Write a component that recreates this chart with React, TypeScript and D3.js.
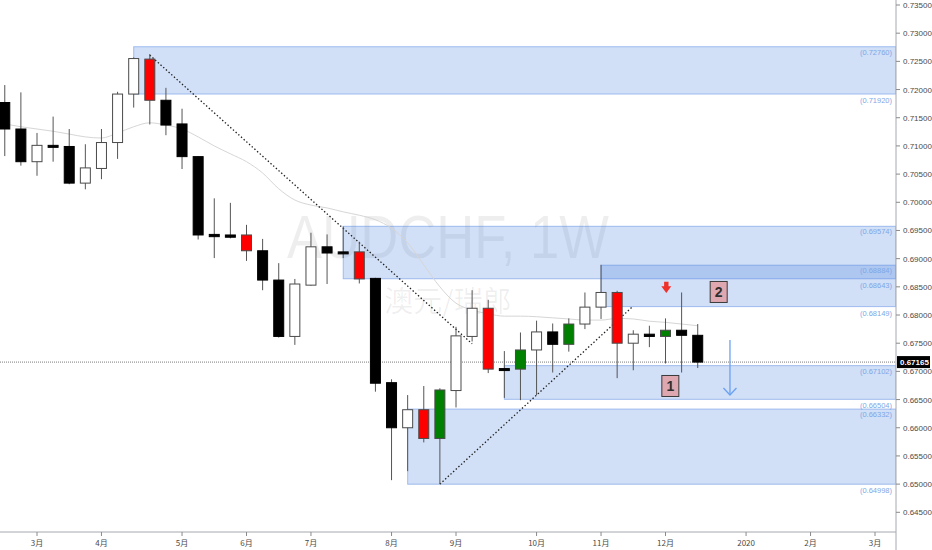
import React from "react";
import * as d3 from "d3";

// ---- data ----
const weekIndex = [-2, -1, 0, 1, 2, 3, 4, 5, 6, 7, 8, 9, 10, 11, 12, 13, 14, 15, 16, 17, 18, 19, 20, 21, 22, 23, 24, 25, 26, 27, 28, 29, 30, 31, 32, 33, 34, 35, 36, 37, 38, 39, 40, 41];
const opens = [0.7177, 0.7130, 0.7072, 0.7101, 0.7099, 0.7034, 0.7060, 0.7106, 0.7192, 0.7254, 0.7181, 0.7139, 0.7081, 0.6943, 0.6942, 0.6942, 0.6914, 0.6862, 0.6762, 0.6853, 0.6921, 0.6912, 0.6912, 0.6865, 0.6680, 0.6600, 0.6632, 0.6581, 0.6666, 0.6762, 0.6812, 0.6705, 0.6704, 0.6738, 0.6770, 0.6748, 0.6784, 0.6814, 0.6840, 0.6750, 0.6766, 0.6762, 0.6773, 0.6764];
const highs = [0.7208, 0.7195, 0.7123, 0.7152, 0.7130, 0.7103, 0.7130, 0.7196, 0.7257, 0.7263, 0.7203, 0.7166, 0.7082, 0.7007, 0.6999, 0.6960, 0.6935, 0.6892, 0.6864, 0.6946, 0.6943, 0.6957, 0.6930, 0.6866, 0.6686, 0.6658, 0.6674, 0.6670, 0.6779, 0.6844, 0.6827, 0.6736, 0.6769, 0.6790, 0.6785, 0.6794, 0.6840, 0.6889, 0.6843, 0.6773, 0.6781, 0.6794, 0.6840, 0.6784];
const lows = [0.7082, 0.7065, 0.7047, 0.7072, 0.7032, 0.7023, 0.7041, 0.7077, 0.7168, 0.7138, 0.7119, 0.7059, 0.6934, 0.6901, 0.6936, 0.6896, 0.6844, 0.6760, 0.6747, 0.6852, 0.6855, 0.6901, 0.6856, 0.6664, 0.6507, 0.6523, 0.6574, 0.6500, 0.6636, 0.6753, 0.6697, 0.6653, 0.6649, 0.6658, 0.6698, 0.6735, 0.6775, 0.6793, 0.6688, 0.6702, 0.6743, 0.6714, 0.6698, 0.6706];
const closes = [0.7130, 0.7072, 0.7101, 0.7099, 0.7034, 0.7061, 0.7106, 0.7192, 0.7255, 0.7181, 0.7137, 0.7081, 0.6942, 0.6939, 0.6938, 0.6914, 0.6862, 0.6762, 0.6855, 0.6921, 0.6910, 0.6910, 0.6864, 0.6679, 0.6600, 0.6632, 0.6581, 0.6667, 0.6763, 0.6812, 0.6704, 0.6703, 0.6738, 0.6770, 0.6748, 0.6784, 0.6814, 0.6840, 0.6750, 0.6766, 0.6762, 0.6773, 0.6764, 0.67165];
const candleColors = ["", "", "", "", "", "", "", "", "", "red", "", "", "", "", "", "red", "", "", "", "", "", "", "red", "", "", "", "red", "green", "", "", "red", "", "green", "", "", "green", "", "", "red", "", "", "green", "", ""];
const maValues = [0.7139, 0.7134, 0.7130, 0.7126, 0.7121, 0.7116, 0.7114, 0.7123, 0.7134, 0.7141, 0.7137, 0.7130, 0.7116, 0.7100, 0.7086, 0.7072, 0.7052, 0.7024, 0.7004, 0.6995, 0.6990, 0.6983, 0.6977, 0.6969, 0.6954, 0.6928, 0.6889, 0.6850, 0.6821, 0.6809, 0.6802, 0.6798, 0.6798, 0.6797, 0.6795, 0.6793, 0.6791, 0.6791, 0.6794, 0.6793, 0.6789, 0.6787, 0.6784, 0.6781];

const monthTickIndex = [0, 4, 9, 13, 17, 22, 26, 31, 35, 39, 44, 48, 52];
const monthTickLabels = ["3月", "4月", "5月", "6月", "7月", "8月", "9月", "10月", "11月", "12月", "2020", "2月", "3月"];
const priceTicks = [0.645, 0.65, 0.655, 0.66, 0.665, 0.67, 0.675, 0.68, 0.685, 0.69, 0.695, 0.7, 0.705, 0.71, 0.715, 0.72, 0.725, 0.73, 0.735];

const zoneStartIndex = [6, 19, 35, 29, 23];
const zoneTop = [0.7276, 0.69574, 0.68884, 0.67102, 0.66332];
const zoneBottom = [0.7192, 0.68643, 0.68149, 0.66504, 0.64998];

const trendStartIndex = [7, 25];
const trendStartPrice = [0.7261, 0.65];
const trendEndIndex = [27, 37];
const trendEndPrice = [0.6749, 0.6816];

const lastPrice = 0.67165;

const noteLabels = ["1", "2"];
const noteIndex = [39.3, 42.3];
const notePrice = [0.66741, 0.68409];
const redArrowIndex = 39.05;
const redArrowTop = 0.6859;
const redArrowTip = 0.6839;
const blueArrowIndex = 43;
const blueArrowFrom = 0.67557;
const blueArrowTo = 0.66581;

const W = 932;
const H = 550;
const plotRight = 896;
const plotBottom = 532;

export default function App() {
  const x = d3.scaleLinear().domain([0, 52]).range([37, 875]);
  const y = d3.scaleLinear().domain([0.645, 0.735]).range([512.3, 5]);
  const bodyW = (x(1) - x(0)) * 0.62;
  const fmt = d3.format(".5f");

  const maLine = d3
    .line<number>()
    .x((_, i) => x(weekIndex[i]))
    .y((d) => y(d))
    .curve(d3.curveMonotoneX)(maValues);

  const labelFont = "'Liberation Sans', Arial, sans-serif";
  const zoneLabels: { text: string; yPos: number }[] = [];
  zoneTop.forEach((t, i) => {
    zoneLabels.push({ text: `(${fmt(t)})`, yPos: y(t) + 8 });
    zoneLabels.push({ text: `(${fmt(zoneBottom[i])})`, yPos: y(zoneBottom[i]) + 9 });
  });

  const lpY = y(lastPrice);

  return (
    <div>
      <style>{`body{margin:0;background:#fff}`}</style>
      <svg width={W} height={H} style={{ display: "block" }}>
        <defs>
          <clipPath id="plotClip">
            <rect x={0} y={0} width={plotRight} height={plotBottom} />
          </clipPath>
        </defs>
        <rect x={0} y={0} width={W} height={H} fill="#ffffff" />

        {/* watermark */}
        <text
          x={plotRight / 2}
          y={258}
          textAnchor="middle"
          fontFamily={labelFont}
          fontSize={62}
          textLength={322}
          lengthAdjust="spacingAndGlyphs"
          fill="rgba(0,0,0,0.065)"
        >
          AUDCHF, 1W
        </text>
        <text
          x={plotRight / 2}
          y={312}
          textAnchor="middle"
          fontFamily="'Noto Sans CJK SC', sans-serif"
          fontSize={29}
          fill="rgba(0,0,0,0.065)"
        >
          澳元/瑞郎
        </text>

        <g clipPath="url(#plotClip)">
          {/* zones */}
          {zoneStartIndex.map((s, i) => (
            <rect
              key={"z" + i}
              x={x(s)}
              y={y(zoneTop[i])}
              width={plotRight - x(s)}
              height={y(zoneBottom[i]) - y(zoneTop[i])}
              fill="rgba(71,127,223,0.25)"
              stroke="rgba(71,127,223,0.45)"
              strokeWidth={1}
            />
          ))}

          {/* moving average */}
          <path d={maLine || ""} fill="none" stroke="#d6d6d6" strokeWidth={1} />

          {/* last price line */}
          <line x1={0} x2={plotRight} y1={lpY} y2={lpY} stroke="#7a7a7a" strokeWidth={1} strokeDasharray="1 1" />

          {/* trend lines */}
          {trendStartIndex.map((s, i) => (
            <line
              key={"t" + i}
              x1={x(s)}
              y1={y(trendStartPrice[i])}
              x2={x(trendEndIndex[i])}
              y2={y(trendEndPrice[i])}
              stroke="#1e1e1e"
              strokeWidth={1.3}
              strokeDasharray="1.4 2.2"
            />
          ))}

          {/* candles */}
          {weekIndex.map((wi, i) => {
            const o = opens[i];
            const c = closes[i];
            const cx = x(wi);
            const up = c >= o;
            let fill = up ? "#ffffff" : "#000000";
            let stroke = up ? "#4a4a4a" : "#000000";
            if (candleColors[i] === "red") {
              fill = "#ff0000";
              stroke = "#4a4a4a";
            } else if (candleColors[i] === "green") {
              fill = "#008000";
              stroke = "#4a4a4a";
            }
            const top = y(Math.max(o, c));
            const bot = y(Math.min(o, c));
            const h = Math.max(bot - top, 2);
            return (
              <g key={"c" + i}>
                <line x1={cx} x2={cx} y1={y(highs[i])} y2={y(lows[i])} stroke="#555555" strokeWidth={1} />
                <rect x={cx - bodyW / 2} y={top} width={bodyW} height={h} fill={fill} stroke={stroke} strokeWidth={1} />
              </g>
            );
          })}

          {/* zone price labels */}
          {zoneLabels.map((l, i) => (
            <text key={"zl" + i} x={892} y={l.yPos} textAnchor="end" fontFamily={labelFont} fontSize={7.5} fill="#7fa6e6">
              {l.text}
            </text>
          ))}

          {/* red arrow */}
          {(() => {
            const ax = x(redArrowIndex);
            const t = y(redArrowTop);
            const tip = y(redArrowTip);
            const mid = t + (tip - t) * 0.4;
            return (
              <path
                d={`M${ax - 2.2},${t} L${ax + 2.2},${t} L${ax + 2.2},${mid} L${ax + 5},${mid} L${ax},${tip} L${ax - 5},${mid} L${ax - 2.2},${mid} Z`}
                fill="#f0312a"
              />
            );
          })()}

          {/* blue arrow */}
          {(() => {
            const bx = x(blueArrowIndex);
            const y1 = y(blueArrowFrom);
            const y2 = y(blueArrowTo);
            return (
              <g stroke="#6aa2f2" strokeWidth={1.3} fill="none">
                <line x1={bx} x2={bx} y1={y1} y2={y2} />
                <polyline points={`${bx - 6.5},${y2 - 7} ${bx},${y2} ${bx + 6.5},${y2 - 7}`} />
              </g>
            );
          })()}

          {/* note boxes */}
          {noteLabels.map((t, i) => {
            const cx = x(noteIndex[i]);
            const cy = y(notePrice[i]);
            return (
              <g key={"n" + i}>
                <rect x={cx - 8.5} y={cy - 10.5} width={17} height={21} fill="#dfa8b0" stroke="#3a3a3a" strokeWidth={1} />
                <text x={cx} y={cy + 5} textAnchor="middle" fontFamily={labelFont} fontWeight="bold" fontSize={14} fill="#2f2f2f">
                  {t}
                </text>
              </g>
            );
          })}
        </g>

        {/* axes */}
        <line x1={0} x2={plotRight} y1={plotBottom} y2={plotBottom} stroke="#a6a8ad" strokeWidth={1} />
        <line x1={plotRight} x2={plotRight} y1={0} y2={H} stroke="#a6a8ad" strokeWidth={1} />

        {priceTicks.map((p) => (
          <g key={"p" + p}>
            <line x1={plotRight} x2={plotRight + 4} y1={y(p)} y2={y(p)} stroke="#8a8a8a" />
            <text x={plotRight + 7} y={y(p) + 3} fontFamily={labelFont} fontSize={8} fill="#4a4a4a">
              {fmt(p)}
            </text>
          </g>
        ))}

        {monthTickIndex.map((m, i) => (
          <g key={"m" + i}>
            <line x1={x(m)} x2={x(m)} y1={plotBottom} y2={plotBottom + 4} stroke="#8a8a8a" />
            <text x={x(m)} y={546} textAnchor="middle" fontFamily="'Noto Sans CJK SC', sans-serif" fontSize={8} fill="#4a4a4a">
              {monthTickLabels[i]}
            </text>
          </g>
        ))}

        {/* last price tag */}
        <rect x={plotRight + 1} y={lpY - 6} width={33} height={12} fill="#000000" />
        <text x={plotRight + 4} y={lpY + 3} fontFamily={labelFont} fontSize={8} fontWeight="bold" fill="#ffffff">
          {fmt(lastPrice)}
        </text>
      </svg>
    </div>
  );
}
